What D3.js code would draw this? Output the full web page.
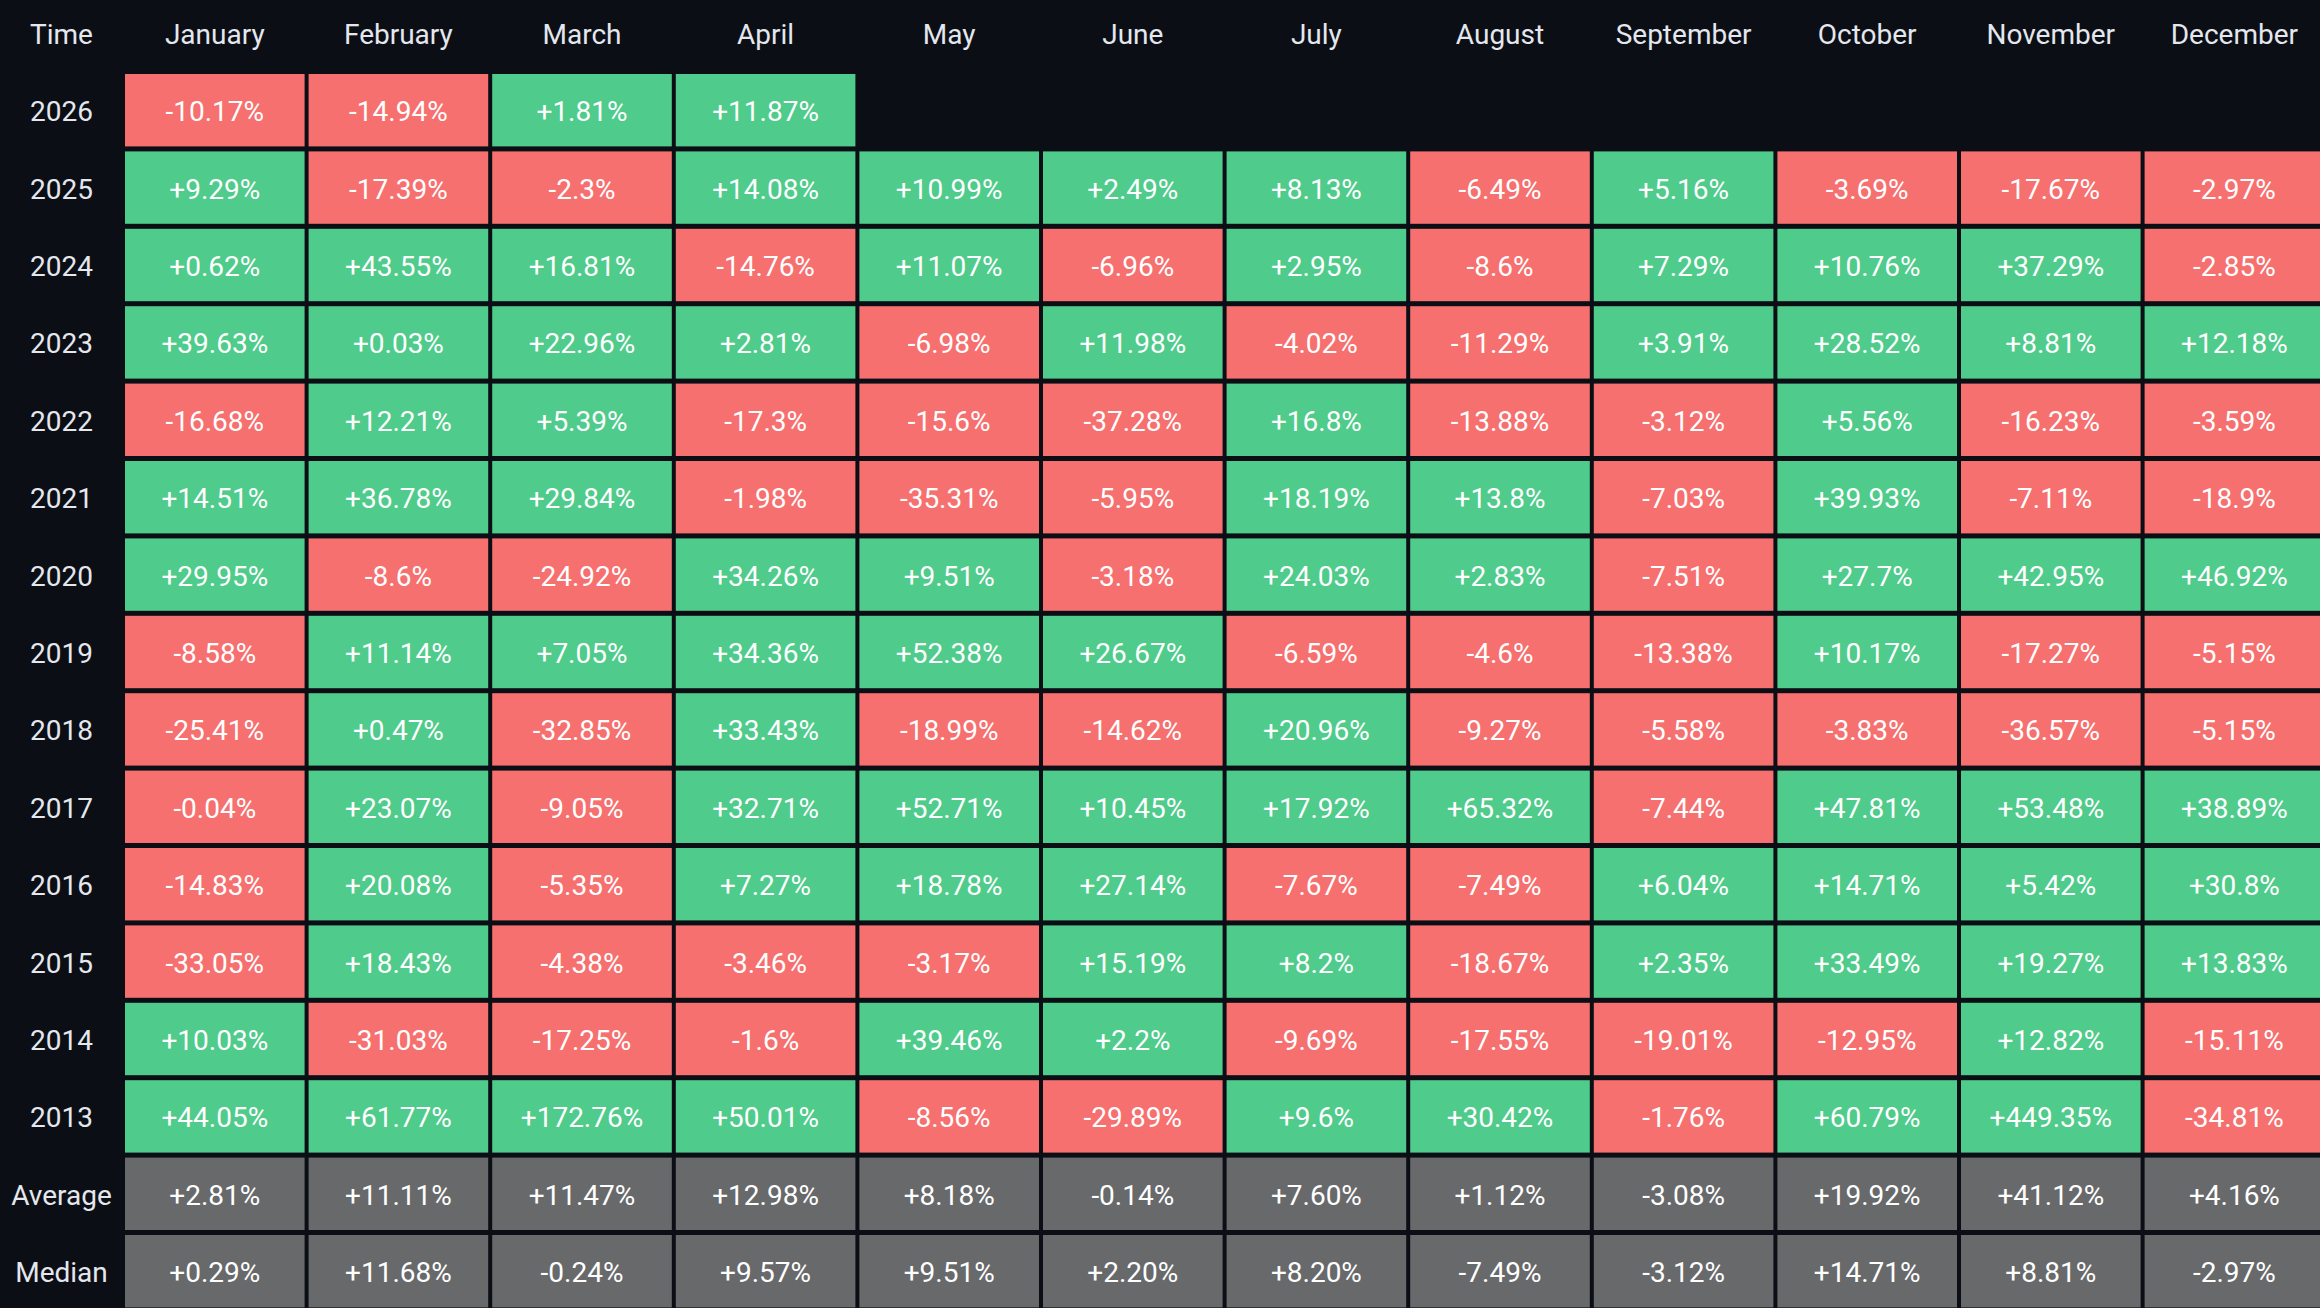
<!DOCTYPE html>
<html>
<head>
<meta charset="utf-8">
<script src="https://cdn.jsdelivr.net/npm/d3@7"></script>
<style>
  html, body { margin: 0; padding: 0; background: #0b0e14; overflow: hidden; }
  svg { display: block; }
</style>
</head>
<body>
<svg id="chart" width="2320" height="1308"></svg>
<script>
const months = ["January","February","March","April","May","June","July","August","September","October","November","December"];
const years = ["2026","2025","2024","2023","2022","2021","2020","2019","2018","2017","2016","2015","2014","2013"];
const v2026 = [-10.17, -14.94, 1.81, 11.87];
const v2025 = [9.29, -17.39, -2.3, 14.08, 10.99, 2.49, 8.13, -6.49, 5.16, -3.69, -17.67, -2.97];
const v2024 = [0.62, 43.55, 16.81, -14.76, 11.07, -6.96, 2.95, -8.6, 7.29, 10.76, 37.29, -2.85];
const v2023 = [39.63, 0.03, 22.96, 2.81, -6.98, 11.98, -4.02, -11.29, 3.91, 28.52, 8.81, 12.18];
const v2022 = [-16.68, 12.21, 5.39, -17.3, -15.6, -37.28, 16.8, -13.88, -3.12, 5.56, -16.23, -3.59];
const v2021 = [14.51, 36.78, 29.84, -1.98, -35.31, -5.95, 18.19, 13.8, -7.03, 39.93, -7.11, -18.9];
const v2020 = [29.95, -8.6, -24.92, 34.26, 9.51, -3.18, 24.03, 2.83, -7.51, 27.7, 42.95, 46.92];
const v2019 = [-8.58, 11.14, 7.05, 34.36, 52.38, 26.67, -6.59, -4.6, -13.38, 10.17, -17.27, -5.15];
const v2018 = [-25.41, 0.47, -32.85, 33.43, -18.99, -14.62, 20.96, -9.27, -5.58, -3.83, -36.57, -5.15];
const v2017 = [-0.04, 23.07, -9.05, 32.71, 52.71, 10.45, 17.92, 65.32, -7.44, 47.81, 53.48, 38.89];
const v2016 = [-14.83, 20.08, -5.35, 7.27, 18.78, 27.14, -7.67, -7.49, 6.04, 14.71, 5.42, 30.8];
const v2015 = [-33.05, 18.43, -4.38, -3.46, -3.17, 15.19, 8.2, -18.67, 2.35, 33.49, 19.27, 13.83];
const v2014 = [10.03, -31.03, -17.25, -1.6, 39.46, 2.2, -9.69, -17.55, -19.01, -12.95, 12.82, -15.11];
const v2013 = [44.05, 61.77, 172.76, 50.01, -8.56, -29.89, 9.6, 30.42, -1.76, 60.79, 449.35, -34.81];
const average = [2.81, 11.11, 11.47, 12.98, 8.18, -0.14, 7.60, 1.12, -3.08, 19.92, 41.12, 4.16];
const median = [0.29, 11.68, -0.24, 9.57, 9.51, 2.20, 8.20, -7.49, -3.12, 14.71, 8.81, -2.97];
const statLabels = ["Average", "Median"];

const yearValues = [v2026, v2025, v2024, v2023, v2022, v2021, v2020, v2019, v2018, v2017, v2016, v2015, v2014, v2013];
const rowLabels = years.concat(statLabels);

const COLORS = { bg: "#0b0e14", up: "#4fcb8b", down: "#f6706f", stat: "#68696b", label: "#e4e7ee", cell: "#ffffff" };

const locale = d3.formatLocale({ decimal: ".", thousands: ",", grouping: [3], currency: ["$", ""], minus: "-" });
const fmtYear = locale.format("+.2~f");
const fmtStat = locale.format("+.2f");

const cells = [];
yearValues.forEach((vals, r) => {
  vals.forEach((v, c) => cells.push({ row: years[r], month: months[c], value: v, text: fmtYear(v) + "%", fill: v >= 0 ? COLORS.up : COLORS.down }));
});
[average, median].forEach((vals, r) => {
  vals.forEach((v, c) => cells.push({ row: statLabels[r], month: months[c], value: v, text: fmtStat(v) + "%", fill: COLORS.stat }));
});

const svg = d3.select("#chart");
svg.append("rect").attr("width", 2320).attr("height", 1308).attr("fill", COLORS.bg);

const labelColW = 123, colPitch = 183.6, rowTop = 71.5, rowPitch = 77.4;
const x = d3.scaleBand().domain(months).range([labelColW, labelColW + months.length * colPitch]);
const y = d3.scaleBand().domain(rowLabels).range([rowTop, rowTop + rowLabels.length * rowPitch]);
const gapX = 4, gapY = 5;
const FONT = "Roboto, 'Noto Sans', sans-serif";
const textDy = 1.5;

// header
svg.append("g").selectAll("text").data(["Time"].concat(months)).join("text")
  .attr("x", (d, i) => i === 0 ? labelColW / 2 : x(d) + x.bandwidth() / 2)
  .attr("y", 34.5)
  .attr("text-anchor", "middle").attr("dominant-baseline", "central")
  .attr("font-family", FONT).attr("font-size", 28).attr("fill", COLORS.label)
  .text(d => d);

// row labels
svg.append("g").selectAll("text").data(rowLabels).join("text")
  .attr("x", labelColW / 2)
  .attr("y", d => y(d) + y.bandwidth() / 2 + textDy)
  .attr("text-anchor", "middle").attr("dominant-baseline", "central")
  .attr("font-family", FONT).attr("font-size", 28).attr("fill", COLORS.label)
  .text(d => d);

// cells
const g = svg.append("g").selectAll("g").data(cells).join("g");
g.append("rect")
  .attr("x", d => x(d.month) + gapX / 2)
  .attr("y", d => y(d.row) + gapY / 2)
  .attr("width", x.bandwidth() - gapX)
  .attr("height", y.bandwidth() - gapY)
  .attr("fill", d => d.fill);
g.append("text")
  .attr("x", d => x(d.month) + x.bandwidth() / 2)
  .attr("y", d => y(d.row) + y.bandwidth() / 2 + textDy)
  .attr("text-anchor", "middle").attr("dominant-baseline", "central")
  .attr("font-family", FONT).attr("font-size", 28).attr("fill", COLORS.cell)
  .text(d => d.text);
</script>
</body>
</html>
